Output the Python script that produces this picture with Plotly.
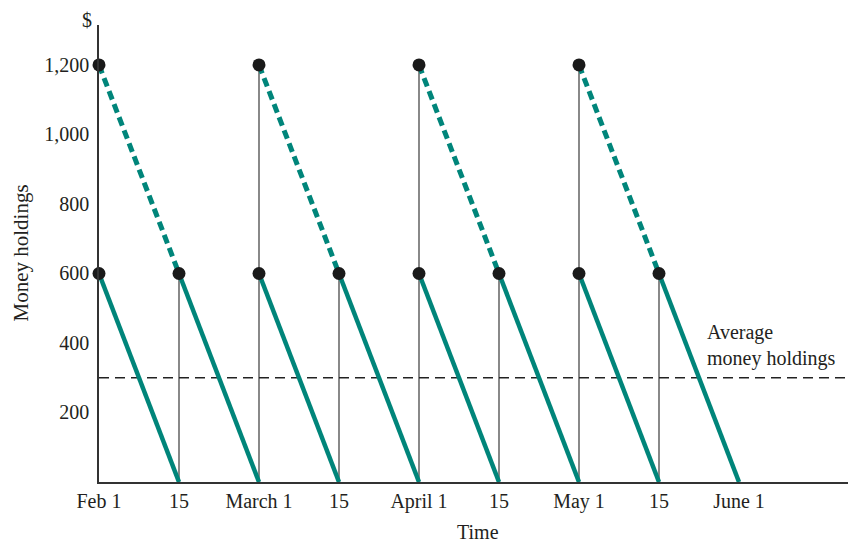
import plotly.graph_objects as go

# ---- data ----
tick_labels = ["Feb 1", "15", "March 1", "15", "April 1", "15", "May 1", "15", "June 1"]
tick_positions = [0, 1, 2, 3, 4, 5, 6, 7, 8]
payday_positions = [0, 2, 4, 6]          # month starts (paydays)
income_per_month = 1200                  # $ received at each payday
cash_after_bond_purchase = 600           # money held after buying bonds
average_holdings = 300
y_ticks = [200, 400, 600, 800, 1000, 1200]

TEAL = "#00857A"
FONT = "Liberation Serif"
FS = 20

fig = go.Figure()

# thin vertical drop lines
vx, vy = [], []
for k in tick_positions[1:-1]:
    top = income_per_month if k in payday_positions else cash_after_bond_purchase
    vx += [k, k, None]
    vy += [0, top, None]
fig.add_trace(go.Scatter(x=vx, y=vy, mode="lines",
                         line=dict(color="#3a3a3a", width=1.2),
                         hoverinfo="skip", showlegend=False))

# average money holdings (dashed black)
fig.add_trace(go.Scatter(x=[0, 9.4], y=[average_holdings, average_holdings], mode="lines",
                         line=dict(color="#222222", width=1.3, dash="10px,6px"),
                         hoverinfo="skip", showlegend=False))

# dashed teal: bonds being run down from 1200 to 600
dx, dy = [], []
for p in payday_positions:
    dx += [p, p + 1, None]
    dy += [income_per_month, cash_after_bond_purchase, None]
fig.add_trace(go.Scatter(x=dx, y=dy, mode="lines",
                         line=dict(color=TEAL, width=5, dash="9px,5px"),
                         hoverinfo="skip", showlegend=False))

# solid teal: money holdings falling from 600 to 0
sx, sy = [], []
for k in tick_positions[:-1]:
    sx += [k, k + 1, None]
    sy += [cash_after_bond_purchase, 0, None]
fig.add_trace(go.Scatter(x=sx, y=sy, mode="lines",
                         line=dict(color=TEAL, width=4.5),
                         hoverinfo="skip", showlegend=False))

# dots
mx = payday_positions + tick_positions[:-1]
my = [income_per_month] * len(payday_positions) + [cash_after_bond_purchase] * len(tick_positions[:-1])
fig.add_trace(go.Scatter(x=mx, y=my, mode="markers",
                         marker=dict(color="#1a1a1a", size=13),
                         hoverinfo="skip", showlegend=False, cliponaxis=False))

fig.update_layout(
    width=848, height=545,
    margin=dict(l=99, r=0, t=25, b=63),
    plot_bgcolor="white", paper_bgcolor="white",
    font=dict(family=FONT, size=FS, color="#231f20"),
    xaxis=dict(range=[0, 9.3625], tickvals=tick_positions, ticktext=tick_labels,
               showgrid=False, zeroline=False, showline=True, linecolor="#333333",
               linewidth=1.5, ticks="", tickfont=dict(size=FS)),
    yaxis=dict(range=[0, 1315], tickvals=y_ticks, ticktext=[f"{v:,}" for v in y_ticks],
               showgrid=False, zeroline=False, showline=True, linecolor="#333333",
               linewidth=1.5, ticks="", tickfont=dict(size=FS), ticklabelstandoff=4),
    annotations=[
        dict(text="$", xref="paper", yref="paper", x=(87 - 99) / 749, y=(482 - 20) / 457,
             showarrow=False, xanchor="center", yanchor="middle", font=dict(size=FS)),
        dict(text="Money holdings", xref="paper", yref="paper", x=(20 - 99) / 749, y=0.5,
             textangle=-90, showarrow=False, xanchor="center", yanchor="middle", font=dict(size=21)),
        dict(text="Time", xref="paper", yref="paper", x=(478 - 99) / 749, y=(482 - 532) / 457,
             showarrow=False, xanchor="center", yanchor="middle", font=dict(size=FS)),
        dict(text="Average<br>money holdings", xref="x", yref="y", x=7.58, y=394,
             showarrow=False, xanchor="left", yanchor="middle", align="left", font=dict(size=FS)),
    ],
)

fig.write_html("out.html", config={"displayModeBar": False},
               post_script="document.body.style.margin='0';document.body.style.overflow='hidden';")
